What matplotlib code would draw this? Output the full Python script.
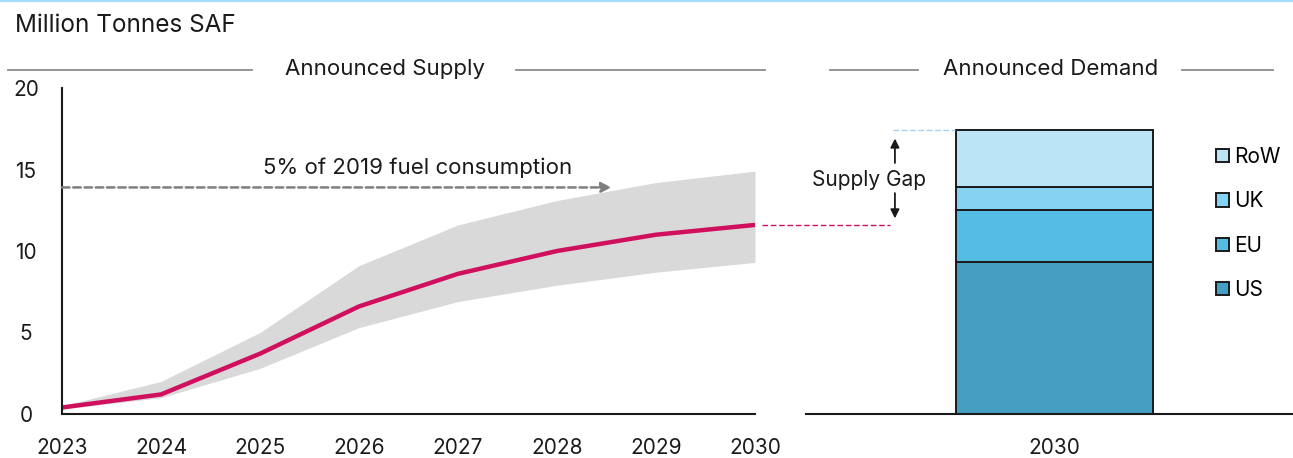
import matplotlib.pyplot as plt
from matplotlib.lines import Line2D
from matplotlib.patches import Patch

plt.rcParams['font.family'] = ['Inter', 'DejaVu Sans']

# announced supply (million tonnes SAF)
years = [2023, 2024, 2025, 2026, 2027, 2028, 2029, 2030]
supply_mid = [0.4, 1.2, 3.7, 6.6, 8.6, 10.0, 11.0, 11.6]
supply_high = [0.5, 2.0, 5.0, 9.1, 11.6, 13.1, 14.2, 14.9]
supply_low = [0.3, 1.0, 2.8, 5.3, 6.9, 7.9, 8.7, 9.3]
target_5pct = 13.9

# announced demand 2030
regions = ['US', 'EU', 'UK', 'RoW']
demand = [9.3, 3.2, 1.4, 3.5]
region_colors = ['#459fc2', '#55bce4', '#86d2f3', '#bce4f7']

pink = '#d0105f'
ink = '#1a1a1a'
W, H = 1293, 458
fig = plt.figure(figsize=(W / 100, H / 100), dpi=100)

def fx(px):
    return px / W

def fy(py):
    return 1 - py / H

# top rule + title
fig.add_artist(Line2D([0, 1], [fy(0.8), fy(0.8)], color='#a6dcf6', lw=1.6))
fig.text(fx(15), fy(25), 'Million Tonnes SAF', fontsize=17.5, va='center', ha='left', color=ink)

# section headers
for x0, x1 in [(8, 252), (516, 765), (830, 918), (1182, 1273)]:
    fig.add_artist(Line2D([fx(x0), fx(x1)], [fy(70), fy(70)], color='#8c8c8c', lw=1.3))
fig.text(fx(385), fy(69), 'Announced Supply', fontsize=16, ha='center', va='center', color=ink)
fig.text(fx(1051), fy(69), 'Announced Demand', fontsize=16, ha='center', va='center', color=ink)

# left panel
ax = fig.add_axes([fx(62), fy(414), fx(755 - 62), (414 - 88) / H])
ax.fill_between(years, supply_low, supply_high, color='#d9d9d9', lw=0)
ax.plot(years, supply_mid, color=pink, lw=3.2, solid_capstyle='butt')
ax.set_xlim(2023, 2030)
ax.set_ylim(0, 20)
ax.set_xticks(years)
ax.set_yticks([0, 5, 10, 15, 20])
ax.tick_params(length=0, labelsize=15, colors=ink)
ax.tick_params(axis='x', pad=17)
ax.tick_params(axis='y', pad=26)
for lab in ax.get_yticklabels():
    lab.set_horizontalalignment('center')
ax.spines[['top', 'right']].set_visible(False)
for s in ['left', 'bottom']:
    ax.spines[s].set_linewidth(1.5)
    ax.spines[s].set_color(ink)

ax.annotate('', xy=(2028.55, target_5pct), xytext=(2023, target_5pct),
            arrowprops=dict(arrowstyle='-|>', color='#7f7f7f', lw=1.8,
                            linestyle=(0, (3, 1.5)), mutation_scale=15, shrinkA=0, shrinkB=0))
ax.text(2025.03, target_5pct + 1.2, '5% of 2019 fuel consumption', fontsize=16,
        ha='left', va='center', color=ink)

# right panel
ax2 = fig.add_axes([fx(806), fy(414), fx(W - 806), (414 - 88) / H])
bottom = 0
for reg, val, col in zip(regions, demand, region_colors):
    ax2.bar([0], [val], bottom=bottom, width=0.8, color=col, edgecolor=ink, lw=1.4, label=reg)
    bottom += val
total_demand = bottom
ax2.set_xlim(-1.008, 0.969)
ax2.set_ylim(0, 20)
ax2.set_xticks([0])
ax2.set_xticklabels(['2030'])
ax2.set_yticks([])
ax2.tick_params(length=0, labelsize=15, colors=ink, pad=17)
ax2.spines[['top', 'right', 'left']].set_visible(False)
ax2.spines['bottom'].set_linewidth(1.5)
ax2.spines['bottom'].set_color(ink)

# supply gap markers
ax2.plot([-1.187, -0.667], [supply_mid[-1], supply_mid[-1]], color=pink, lw=1, ls=(0, (4, 2)), clip_on=False)
ax2.plot([-0.655, -0.403], [total_demand, total_demand], color='#9fd5f0', lw=1, ls=(0, (4, 2)), clip_on=False)
ax2.annotate('', xy=(-0.647, total_demand - 0.5), xytext=(-0.647, total_demand - 2.0),
             arrowprops=dict(arrowstyle='-|>', color=ink, lw=1.3, mutation_scale=13, shrinkA=0, shrinkB=0))
ax2.annotate('', xy=(-0.647, supply_mid[-1] + 0.4), xytext=(-0.647, supply_mid[-1] + 1.95),
             arrowprops=dict(arrowstyle='-|>', color=ink, lw=1.3, mutation_scale=13, shrinkA=0, shrinkB=0))
ax2.text(-0.752, 14.36, 'Supply Gap', fontsize=15, ha='center', va='center', color=ink)

handles = [Patch(facecolor=c, edgecolor=ink, lw=1.4, label=r) for r, c in zip(regions, region_colors)][::-1]
ax2.legend(handles=handles, loc='upper left', bbox_to_anchor=(0.825, 0.845), frameon=False,
           handlelength=0.6, handleheight=0.6, handletextpad=0.25, labelspacing=1.17, fontsize=15,
           borderaxespad=0)

fig.savefig('out.png', dpi=100)
